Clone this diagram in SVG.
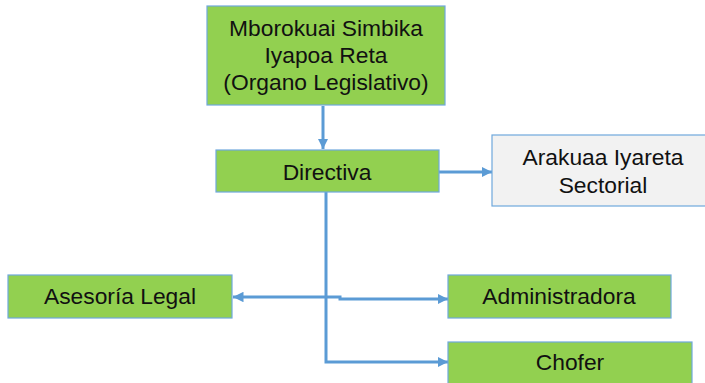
<svg xmlns="http://www.w3.org/2000/svg" width="705" height="383" viewBox="0 0 705 383">
<style>
.box{fill:#92d050;stroke:#6fa8dc;stroke-width:1.2}
.grey{fill:#f2f2f2;stroke:#6fa8dc;stroke-width:1.2}
.t{font-family:"Liberation Sans",Arial,sans-serif;font-size:22.8px;fill:#111;text-anchor:middle}
.c{fill:none;stroke:#5b9bd5;stroke-width:3}
</style>
<defs>
<marker id="ah" viewBox="0 0 10 10" refX="10" refY="5" markerWidth="3.5" markerHeight="3.5" orient="auto-start-reverse" markerUnits="strokeWidth">
<path d="M0,0 L10,5 L0,10 z" fill="#5b9bd5"/>
</marker>
</defs>
<g id="connectors">
<path class="c" d="M323,106 V149" marker-end="url(#ah)"/>
<path class="c" d="M439,172 H492" marker-end="url(#ah)"/>
<path class="c" d="M326,192 V362 H448" marker-end="url(#ah)"/>
<path class="c" d="M233,297 H340 V299 H448" marker-start="url(#ah)" marker-end="url(#ah)"/>
</g>
<g id="organo">
<rect class="box" x="207" y="6" width="238" height="99"/>
<text class="t" x="326" y="36">Mborokuai Simbika</text>
<text class="t" x="326" y="63">Iyapoa Reta</text>
<text class="t" x="326" y="90">(Organo Legislativo)</text>
</g>
<g id="directiva">
<rect class="box" x="216" y="150" width="223" height="42"/>
<text class="t" x="327" y="180">Directiva</text>
</g>
<g id="arakuaa">
<rect class="grey" x="492" y="135" width="222" height="71"/>
<text class="t" x="603" y="165">Arakuaa Iyareta</text>
<text class="t" x="603" y="193">Sectorial</text>
</g>
<g id="asesoria">
<rect class="box" x="8" y="275" width="224" height="43"/>
<text class="t" x="120" y="304">Asesoría Legal</text>
</g>
<g id="administradora">
<rect class="box" x="448" y="275" width="223" height="43"/>
<text class="t" x="559" y="304">Administradora</text>
</g>
<g id="chofer">
<rect class="box" x="448" y="342" width="244" height="50"/>
<text class="t" x="570" y="370">Chofer</text>
</g>
</svg>
